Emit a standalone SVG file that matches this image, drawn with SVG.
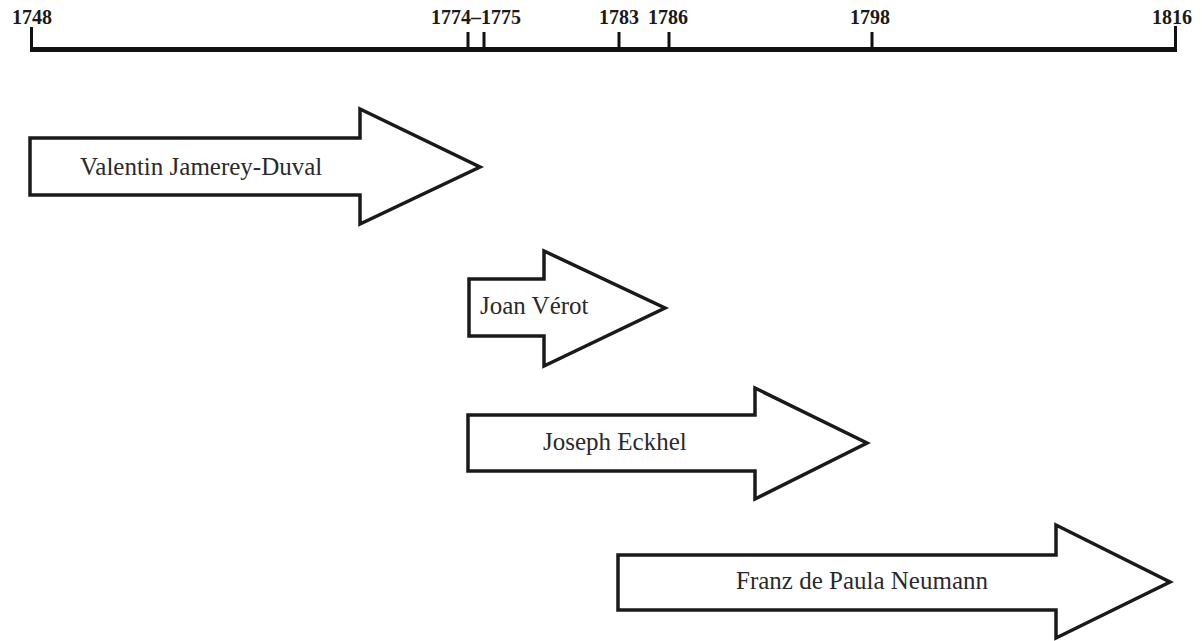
<svg xmlns="http://www.w3.org/2000/svg" width="1202" height="641" viewBox="0 0 1202 641">
<style>
.bg{fill:#ffffff}
.arrow{fill:#ffffff;stroke:#1a1a1a;stroke-width:3.5;stroke-linejoin:miter}
.lbl{font-family:"Liberation Serif","Times New Roman",serif;font-size:25px;fill:#2a2a2a}
.yr{font-family:"Liberation Serif","Times New Roman",serif;font-size:20px;font-weight:bold;fill:#1a1a1a;text-anchor:middle}
.axis{stroke:#111111;stroke-width:5;fill:none}
.tick{stroke:#111111;stroke-width:3;fill:none}
</style>
<rect class="bg" x="0" y="0" width="1202" height="641"/>
<g id="timeline">
  <line class="axis" x1="30" y1="49.5" x2="1177" y2="49.5"/>
  <line class="tick" x1="31.5" y1="27" x2="31.5" y2="50"/>
  <line class="tick" x1="468" y1="32" x2="468" y2="50"/>
  <line class="tick" x1="484" y1="32" x2="484" y2="50"/>
  <line class="tick" x1="619" y1="32" x2="619" y2="50"/>
  <line class="tick" x1="669" y1="32" x2="669" y2="50"/>
  <line class="tick" x1="872" y1="32" x2="872" y2="50"/>
  <line class="tick" x1="1175.5" y1="26" x2="1175.5" y2="50"/>
  <text class="yr" x="32" y="24">1748</text>
  <text class="yr" x="476" y="24">1774–1775</text>
  <text class="yr" x="619" y="24">1783</text>
  <text class="yr" x="668" y="24">1786</text>
  <text class="yr" x="870" y="24">1798</text>
  <text class="yr" x="1172" y="24">1816</text>
</g>
<g id="node-valentin">
  <polygon class="arrow" points="30,138 360,138 360,109 480,167 360,224 360,195 30,195"/>
  <text class="lbl" x="80" y="175">Valentin Jamerey-Duval</text>
</g>
<g id="node-joan">
  <polygon class="arrow" points="469,279 544,279 544,251 665,308 544,366 544,336 469,336"/>
  <text class="lbl" x="480" y="314">Joan Vérot</text>
</g>
<g id="node-joseph">
  <polygon class="arrow" points="468,415 755,415 755,388 867,443 755,499 755,471 468,471"/>
  <text class="lbl" x="543" y="450">Joseph Eckhel</text>
</g>
<g id="node-franz">
  <polygon class="arrow" points="618,555 1056,555 1056,525 1170,582 1056,638 1056,610 618,610"/>
  <text class="lbl" x="736" y="589">Franz de Paula Neumann</text>
</g>
<g id="connectors"></g>
</svg>
